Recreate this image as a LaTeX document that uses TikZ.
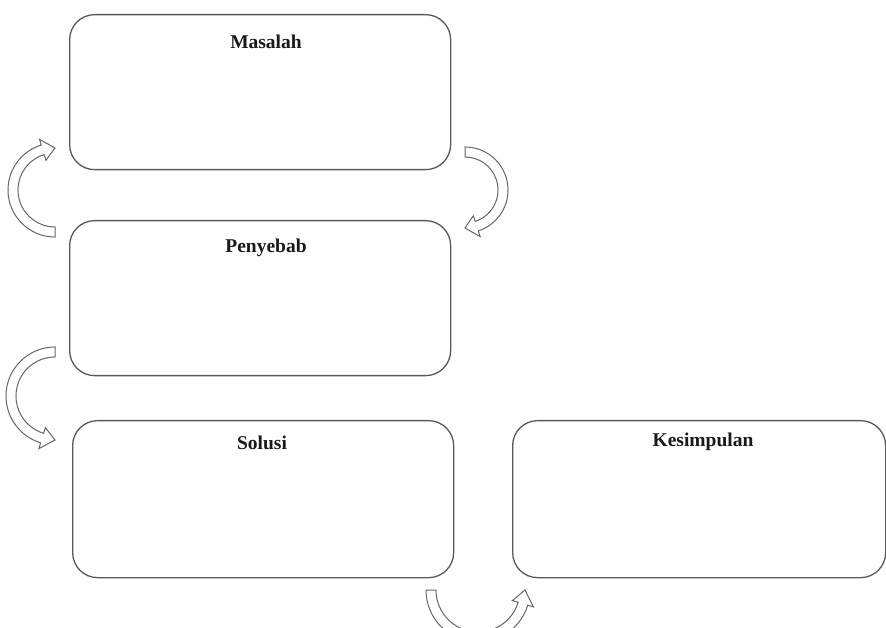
\documentclass[tikz,border=0pt]{standalone}
\usepackage{fontspec}
\setmainfont{Liberation Serif}
\tikzset{
  box/.style={draw=black!65, line width=1.3pt, rounded corners=25pt, fill=white, inner sep=0pt, anchor=north west},
  title/.style={font=\fontsize{19.5}{22}\selectfont\bfseries, text=black!90, inner sep=0pt},
  blockarrow/.style={draw=black!60, line width=1pt, fill=white, line join=miter}
}
% #1 center, #2 r, #3 start angle, #4 base angle, #5 tip angle, #6 half band width, #7 half head width
\newcommand\blockarc[7]{%
  \pgfmathsetmacro\ro{#2+#6}\pgfmathsetmacro\ri{#2-#6}%
  \pgfmathsetmacro\ho{#2+#7}\pgfmathsetmacro\hi{#2-#7}%
  \begin{scope}[shift={(#1)}]
    \path[blockarrow] (#3:\ro pt) arc[start angle=#3, end angle=#4, radius=\ro pt]
      -- (#4:\ho pt) -- (#5:#2pt) -- (#4:\hi pt) -- (#4:\ri pt)
      arc[start angle=#4, end angle=#3, radius=\ri pt] -- cycle;
  \end{scope}}
\begin{document}
\begin{tikzpicture}[x=1pt,y=1pt]
  \useasboundingbox (0,0) rectangle (886,627);
  \clip (0,0) rectangle (886,627);
  \fill[white] (0,0) rectangle (886,627);
  % boxes
  \node[box, minimum width=381pt, minimum height=155pt] (masalah) at (69,613) {};
  \node[box, minimum width=381pt, minimum height=155pt] (penyebab) at (69,407) {};
  \node[box, minimum width=381pt, minimum height=157pt] (solusi) at (72,207) {};
  \node[box, minimum width=373pt, minimum height=157pt] (kesimpulan) at (512,207) {};
  % titles
  \node[title] (tmasalah) at (266,585) {Masalah};
  \node[title] (tpenyebab) at (266,379) {Penyebab};
  \node[title] (tsolusi) at (262,184) {Solusi};
  \node[title] (tkesimpulan) at (703,185) {Kesimpulan};
  % curved block arrows
  \blockarc{55,437}{42}{270}{107}{90}{5}{11}
  \blockarc{465,437}{38}{90}{-72}{-90}{5}{11}
  \blockarc{55,231}{44}{90}{253}{270}{5}{11}
  \blockarc{478,37}{47}{180}{343}{360}{5}{11}
\end{tikzpicture}
\end{document}
